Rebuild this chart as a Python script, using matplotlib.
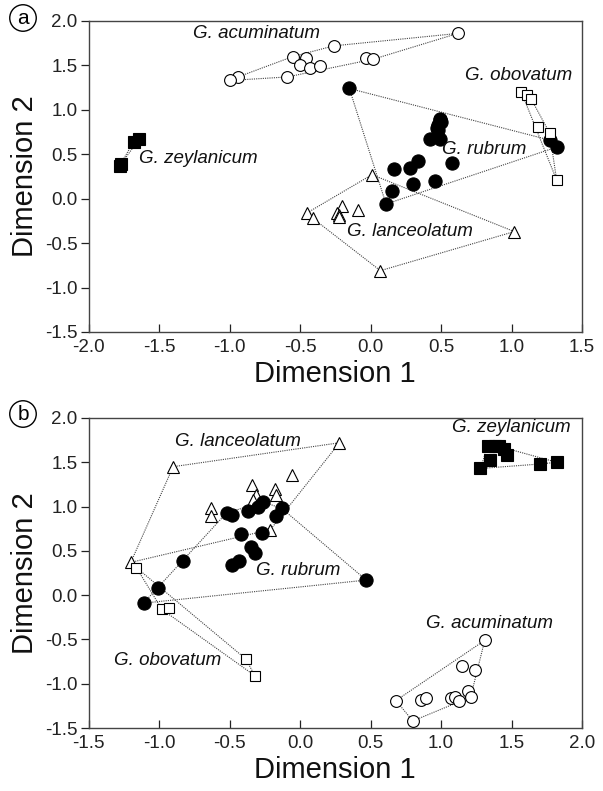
import numpy as np
import matplotlib
matplotlib.use('Agg')
import matplotlib.pyplot as plt

plt.rcParams['font.family'] = ['Liberation Sans', 'DejaVu Sans']

# ---------------- Panel (a) data ----------------
a_acum_x = [0.62, -0.26, -0.55, -0.46, -0.50, -0.43, -0.36, -0.03, 0.02, -0.59, -0.94, -1.00]
a_acum_y = [1.86, 1.72, 1.60, 1.58, 1.51, 1.47, 1.49, 1.58, 1.57, 1.37, 1.37, 1.33]

a_rub_x = [-0.15, 0.49, 0.48, 0.48, 0.42, 0.49, 0.58, 0.34, 0.28, 0.17, 0.30, 0.46, 0.15, 0.11,
           0.50, 0.49, 0.47, 1.27, 1.32]
a_rub_y = [1.24, 0.89, 0.83, 0.77, 0.67, 0.67, 0.40, 0.42, 0.35, 0.33, 0.16, 0.20, 0.09, -0.06,
           0.86, 0.90, 0.80, 0.66, 0.58]

a_obo_x = [1.07, 1.11, 1.14, 1.19, 1.27, 1.32]
a_obo_y = [1.20, 1.17, 1.12, 0.81, 0.74, 0.21]

a_lan_x = [0.01, -0.45, -0.41, -0.20, -0.24, -0.22, -0.22, -0.09, 1.02, 0.07]
a_lan_y = [0.27, -0.16, -0.22, -0.08, -0.16, -0.18, -0.21, -0.13, -0.37, -0.81]

a_zey_x = [-1.64, -1.68, -1.77, -1.78]
a_zey_y = [0.67, 0.64, 0.39, 0.37]

# ---------------- Panel (b) data ----------------
b_lan_x = [0.28, -0.90, -0.055, -0.34, -0.18, -0.17, -0.31, -0.33, -0.63, -0.63, -0.21, -1.20]
b_lan_y = [1.72, 1.45, 1.36, 1.24, 1.20, 1.13, 1.13, 1.07, 0.98, 0.89, 0.74, 0.37]

b_rub_x = [-0.52, -0.48, -0.37, -0.30, -0.26, -0.13, -0.17, -0.42, -0.27, -0.35, -0.32, -0.48,
           -0.43, -0.83, -1.01, -1.11, 0.47]
b_rub_y = [0.93, 0.91, 0.95, 0.99, 1.05, 0.98, 0.89, 0.69, 0.70, 0.54, 0.48, 0.34,
           0.38, 0.38, 0.08, -0.09, 0.17]

b_obo_x = [-1.16, -0.98, -0.93, -0.385, -0.32]
b_obo_y = [0.31, -0.16, -0.14, -0.72, -0.91]

b_zey_x = [1.33, 1.38, 1.41, 1.45, 1.47, 1.35, 1.28, 1.70, 1.82]
b_zey_y = [1.68, 1.68, 1.68, 1.65, 1.58, 1.53, 1.43, 1.48, 1.50]

b_acum_x = [1.31, 1.15, 1.24, 1.19, 1.21, 0.68, 0.86, 0.89, 1.07, 1.10, 1.13, 0.80]
b_acum_y = [-0.51, -0.80, -0.84, -1.08, -1.15, -1.19, -1.18, -1.16, -1.16, -1.15, -1.20, -1.42]

ticks_x_a = [-2.0, -1.5, -1.0, -0.5, 0.0, 0.5, 1.0, 1.5]
ticks_x_b = [-1.5, -1.0, -0.5, 0.0, 0.5, 1.0, 1.5, 2.0]
ticks_y = [-1.5, -1.0, -0.5, 0.0, 0.5, 1.0, 1.5, 2.0]


def hull(xs, ys):
    pts = sorted(set(zip(xs, ys)))
    if len(pts) < 3:
        p = np.array(pts + [pts[0]])
        return p[:, 0], p[:, 1]

    def cross(o, a, b):
        return (a[0] - o[0]) * (b[1] - o[1]) - (a[1] - o[1]) * (b[0] - o[0])
    lower = []
    for p in pts:
        while len(lower) >= 2 and cross(lower[-2], lower[-1], p) <= 0:
            lower.pop()
        lower.append(p)
    upper = []
    for p in reversed(pts):
        while len(upper) >= 2 and cross(upper[-2], upper[-1], p) <= 0:
            upper.pop()
        upper.append(p)
    h = lower[:-1] + upper[:-1]
    h.append(h[0])
    h = np.array(h)
    return h[:, 0], h[:, 1]


STY = {
    'acum': dict(marker='o', ms=8.5, mfc='white', mec='black', mew=0.8),
    'rub': dict(marker='o', ms=9.5, mfc='black', mec='black', mew=0.8),
    'lan': dict(marker='^', ms=9, mfc='white', mec='black', mew=0.8),
    'obo': dict(marker='s', ms=6.5, mfc='white', mec='black', mew=0.8),
    'zey': dict(marker='s', ms=8.5, mfc='black', mec='black', mew=0.8),
}


def draw_group(ax, xs, ys, key):
    hx, hy = hull(xs, ys)
    ax.plot(hx, hy, linestyle=(0, (1, 1)), color='#444444', lw=0.8, zorder=1)
    ax.plot(xs, ys, linestyle='none', zorder=3, **STY[key])


fig = plt.figure(figsize=(6.03, 7.91), dpi=100)
axa = fig.add_axes([0.1468, 0.5803, 0.8184, 0.3932])
axb = fig.add_axes([0.1468, 0.0796, 0.8184, 0.3920])

draw_group(axa, a_acum_x, a_acum_y, 'acum')
draw_group(axa, a_rub_x, a_rub_y, 'rub')
draw_group(axa, a_obo_x, a_obo_y, 'obo')
draw_group(axa, a_lan_x, a_lan_y, 'lan')
draw_group(axa, a_zey_x, a_zey_y, 'zey')

draw_group(axb, b_lan_x, b_lan_y, 'lan')
draw_group(axb, b_rub_x, b_rub_y, 'rub')
draw_group(axb, b_obo_x, b_obo_y, 'obo')
draw_group(axb, b_zey_x, b_zey_y, 'zey')
draw_group(axb, b_acum_x, b_acum_y, 'acum')

lab = dict(style='italic', fontsize=13.5, va='center', ha='left', color='#111111')
axa.text(-1.26, 1.86, 'G. acuminatum', **lab)
axa.text(0.67, 1.39, 'G. obovatum', **lab)
axa.text(0.51, 0.55, 'G. rubrum', **lab)
axa.text(-0.17, -0.37, 'G. lanceolatum', **lab)
axa.text(-1.64, 0.45, 'G. zeylanicum', **lab)

axb.text(-0.89, 1.73, 'G. lanceolatum', **lab)
axb.text(-0.31, 0.28, 'G. rubrum', **lab)
axb.text(-1.32, -0.74, 'G. obovatum', **lab)
axb.text(1.08, 1.89, 'G. zeylanicum', **lab)
axb.text(0.89, -0.32, 'G. acuminatum', **lab)

for ax, xt in ((axa, ticks_x_a), (axb, ticks_x_b)):
    ax.set_xlim(xt[0], xt[-1])
    ax.set_ylim(ticks_y[0], ticks_y[-1])
    ax.set_xticks(xt)
    ax.set_yticks(ticks_y)
    ax.set_xticklabels([f'{v:.1f}' for v in xt])
    ax.set_yticklabels([f'{v:.1f}' for v in ticks_y])
    ax.tick_params(axis='x', direction='in', length=6, width=0.9, pad=5,
                   labelsize=13.5, colors='#222222')
    ax.tick_params(axis='y', direction='out', length=6, width=0.9, pad=2,
                   labelsize=13.5, colors='#222222')
    for s in ax.spines.values():
        s.set_color('#444444')
        s.set_linewidth(1.0)
    ax.set_xlabel('Dimension 1', fontsize=21, labelpad=3, color='#111111')
    ax.set_ylabel('Dimension 2', fontsize=21, labelpad=4, color='#111111')

circ = dict(boxstyle='circle,pad=0.18', fc='white', ec='black', lw=1.0)
fig.text(23 / 603, 1 - 18 / 791, 'a', fontsize=15, ha='center', va='center', bbox=circ)
fig.text(23 / 603, 1 - 414 / 791, 'b', fontsize=15, ha='center', va='center', bbox=circ)

fig.savefig('out.png', dpi=100)
